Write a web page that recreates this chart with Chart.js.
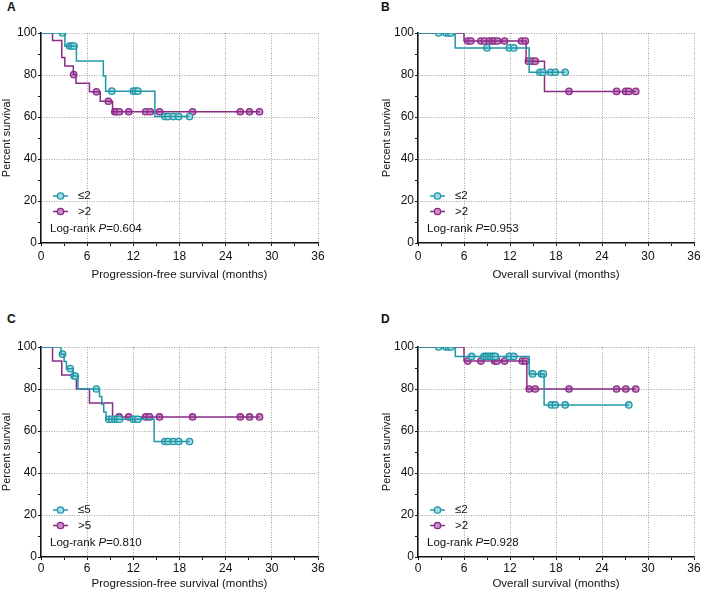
<!DOCTYPE html>
<html lang="en">
<head>
<meta charset="UTF-8">
<title>Kaplan-Meier survival curves</title>
<script src="https://cdn.jsdelivr.net/npm/chart.js"></script>
<style>
    body { margin: 0; width: 701px; height: 591px; overflow: hidden; background: #fff; position: relative;
           font-family: "Liberation Sans", Arial, sans-serif; }
    canvas { position: absolute; }
    .tag { position: absolute; font-size: 12px; font-weight: bold; line-height: 12px; color: #111; }
</style>
</head>
<body>
<div class="tag" style="left:7px;top:1px">A</div>
<div class="tag" style="left:381px;top:1px">B</div>
<div class="tag" style="left:7px;top:313px">C</div>
<div class="tag" style="left:381px;top:313px">D</div>

<canvas id="panelA" width="350" height="290" style="left:0;top:0"></canvas>
<canvas id="panelB" width="370" height="290" style="left:350px;top:0"></canvas>
<canvas id="panelC" width="350" height="301" style="left:0;top:290px"></canvas>
<canvas id="panelD" width="370" height="301" style="left:350px;top:290px"></canvas>

<script>
// axis ticks
const xTicks = [0, 6, 12, 18, 24, 30, 36];
const yTicks = [0, 20, 40, 60, 80, 100];

// A: progression-free survival, <=2 vs >2
const aLowStepT = [3.1, 4.6, 8.1, 8.4, 14.8];
const aLowStepS = [93.8, 86.7, 79.5, 72.3, 60.2];
const aLowCens = [2.8, 3.7, 4.0, 4.3, 9.2, 12.0, 12.3, 12.6, 16.1, 16.5, 17.2, 17.9, 19.3];
const aHighStepT = [1.5, 2.7, 3.1, 4.2, 4.55, 6.3, 7.7, 9.3];
const aHighStepS = [96.4, 88.3, 84.3, 80.2, 76.1, 72.0, 67.5, 62.5];
const aHighCens = [4.25, 7.2, 8.75, 9.6, 9.8, 10.2, 11.4, 13.6, 14.2, 15.4, 19.7, 25.9, 27.1, 28.4];

// B: overall survival, <=2 vs >2
const bLowStepT = [4.85, 14.5];
const bLowStepS = [92.9, 81.3];
const bLowCens = [2.7, 3.65, 4.0, 4.3, 9.0, 11.9, 12.5, 15.9, 16.3, 17.3, 17.9, 19.2];
const bHighStepT = [6.0, 14.1, 16.5];
const bHighStepS = [96.2, 86.6, 72.2];
const bHighCens = [6.5, 6.9, 8.2, 8.7, 9.3, 9.7, 10.0, 10.4, 11.3, 13.5, 14.0, 14.4, 14.9, 15.3, 19.7, 25.9, 27.1, 27.5, 28.4];

// C: progression-free survival, <=5 vs >5
const cLowStepT = [2.6, 3.0, 3.3, 4.2, 4.8, 7.6, 7.9, 8.15, 8.45, 14.7];
const cLowStepS = [96.6, 93.1, 89.7, 86.2, 80.0, 76.4, 72.7, 69.1, 65.6, 55.0];
const cLowCens = [2.8, 3.8, 4.3, 4.45, 7.2, 8.8, 9.2, 9.6, 9.9, 10.2, 12.0, 12.3, 12.6, 16.1, 16.5, 17.2, 17.9, 19.3];
const cHighStepT = [1.5, 2.7, 4.6, 6.3, 9.3];
const cHighStepS = [93.3, 86.7, 80.0, 73.3, 66.7];
const cHighCens = [10.15, 11.4, 13.6, 14.1, 15.4, 19.7, 25.9, 27.1, 28.4];

// D: overall survival, <=2 vs >2
const dLowStepT = [4.87, 14.5, 16.45];
const dLowStepS = [95.5, 87.2, 72.4];
const dLowCens = [2.7, 3.65, 4.0, 4.3, 7.0, 8.6, 8.9, 9.2, 9.5, 9.8, 10.1, 11.9, 12.5, 14.95, 16.1, 16.35, 17.4, 17.9, 19.2, 27.5];
const dHighStepT = [6.0, 14.2];
const dHighStepS = [93.3, 80.0];
const dHighCens = [6.5, 8.2, 10.0, 10.3, 11.3, 13.6, 14.05, 14.5, 15.3, 19.7, 25.9, 27.1, 28.4];

const TEAL = '#1f97a9';
const TEAL_FILL = '#a6d9e0';
const PURPLE = '#8b2b87';
const PURPLE_FILL = '#c78fc4';
const FONT = '"Liberation Sans", Arial, sans-serif';

Chart.defaults.font.family = FONT;
Chart.defaults.font.size = 12;
Chart.defaults.color = '#111';

// survival level at time t (last step at or before t)
function levelAt(t, times, levels) {
    let s = 100;
    times.forEach((st, i) => { if (st <= t) s = levels[i]; });
    return s;
}

function stepPoints(times, levels, cens) {
    const pts = [{ x: 0, y: 100 }];
    times.forEach((t, i) => pts.push({ x: t, y: levels[i] }));
    pts.push({ x: Math.max(...cens), y: levels[levels.length - 1] });
    return pts;
}

function censPoints(times, levels, cens) {
    return cens.map(t => ({ x: t, y: levelAt(t, times, levels) }));
}

function groupSets(times, levels, cens, color, fill) {
    return [
        { data: stepPoints(times, levels, cens), borderColor: color, borderWidth: 1.5,
          stepped: 'before', pointRadius: 0, fill: false },
        { data: censPoints(times, levels, cens), showLine: false, pointRadius: 3.2,
          pointBorderWidth: 1.3, pointBorderColor: color, pointBackgroundColor: fill }
    ];
}

// legend and log-rank note inside the plot
const keyPlugin = {
    id: 'key',
    afterDatasetsDraw(chart, args, opts) {
        const { ctx, chartArea } = chart;
        const x0 = chartArea.left, y0 = chartArea.top;
        ctx.save();
        ctx.font = '11.5px ' + FONT;
        ctx.textBaseline = 'middle';
        opts.rows.forEach((r, i) => {
            const y = y0 + 163 + i * 15.5;
            ctx.strokeStyle = r.color;
            ctx.lineWidth = 1.5;
            ctx.beginPath();
            ctx.moveTo(x0 + 12, y);
            ctx.lineTo(x0 + 27, y);
            ctx.stroke();
            ctx.beginPath();
            ctx.arc(x0 + 19.5, y, 3.2, 0, Math.PI * 2);
            ctx.fillStyle = r.fill;
            ctx.fill();
            ctx.lineWidth = 1.3;
            ctx.stroke();
            ctx.fillStyle = '#111';
            ctx.fillText(r.label, x0 + 37, y);
        });
        const y = y0 + 196;
        let x = x0 + 9;
        ctx.fillStyle = '#111';
        ctx.fillText('Log-rank ', x, y);
        x += ctx.measureText('Log-rank ').width;
        ctx.font = 'italic 11.5px ' + FONT;
        ctx.fillText('P', x, y);
        x += ctx.measureText('P').width;
        ctx.font = '11.5px ' + FONT;
        ctx.fillText('=' + opts.p, x, y);
        ctx.restore();
    }
};

function makePanel(id, p) {
    new Chart(document.getElementById(id), {
        type: 'line',
        data: {
            datasets: [
                ...groupSets(p.low[0], p.low[1], p.low[2], TEAL, TEAL_FILL),
                ...groupSets(p.high[0], p.high[1], p.high[2], PURPLE, PURPLE_FILL)
            ]
        },
        options: {
            responsive: false,
            animation: false,
            events: [],
            layout: { padding: p.pad },
            plugins: {
                legend: { display: false },
                tooltip: { enabled: false },
                key: {
                    rows: [
                        { label: p.labels[0], color: TEAL, fill: TEAL_FILL },
                        { label: p.labels[1], color: PURPLE, fill: PURPLE_FILL }
                    ],
                    p: p.pval
                }
            },
            scales: {
                x: {
                    type: 'linear', min: 0, max: 36,
                    afterFit: s => { s.height = p.xh; },
                    ticks: { stepSize: 3, autoSkip: false, maxRotation: 0, padding: p.xtp,
                             callback: v => xTicks.includes(v) ? v : '' },
                    grid: {
                        color: c => (c.tick && c.tick.value > 0 && xTicks.includes(c.tick.value)) ? '#888' : 'rgba(0,0,0,0)',
                        lineWidth: 0.8, tickColor: '#111', tickLength: 3, tickWidth: 1
                    },
                    border: { color: '#111', width: 1.6, dash: [1, 1.5] },
                    title: { display: true, text: p.xTitle, font: { size: 11.5 },
                             padding: { top: 0, bottom: p.xTitlePad } }
                },
                y: {
                    min: 0, max: 100,
                    afterFit: s => { s.width = p.yw; },
                    ticks: { stepSize: 10, autoSkip: false, padding: 1,
                             callback: v => yTicks.includes(v) ? v : '' },
                    grid: {
                        color: c => (c.tick && c.tick.value > 0 && yTicks.includes(c.tick.value)) ? '#888' : 'rgba(0,0,0,0)',
                        lineWidth: 0.8, tickColor: '#111', tickLength: 3, tickWidth: 1
                    },
                    border: { color: '#111', width: 1.6, dash: [1, 1.5] },
                    title: { display: true, text: 'Percent survival', font: { size: 11 },
                             padding: { top: p.yTitlePad, bottom: 0 } }
                }
            }
        },
        plugins: [keyPlugin]
    });
}

makePanel('panelA', {
    low: [aLowStepT, aLowStepS, aLowCens], high: [aHighStepT, aHighStepS, aHighCens],
    labels: ['\u22642', '>2'], pval: '0.604', xTitle: 'Progression-free survival (months)',
    pad: { left: 0, right: 32, top: 33, bottom: 0 }, yw: 41, xh: 47, xtp: 3, xTitlePad: 8, yTitlePad: 0
});
makePanel('panelB', {
    low: [bLowStepT, bLowStepS, bLowCens], high: [bHighStepT, bHighStepS, bHighCens],
    labels: ['\u22642', '>2'], pval: '0.953', xTitle: 'Overall survival (months)',
    pad: { left: 0, right: 26, top: 33, bottom: 0 }, yw: 68, xh: 47, xtp: 3, xTitlePad: 8, yTitlePad: 30
});
makePanel('panelC', {
    low: [cLowStepT, cLowStepS, cLowCens], high: [cHighStepT, cHighStepS, cHighCens],
    labels: ['\u22645', '>5'], pval: '0.810', xTitle: 'Progression-free survival (months)',
    pad: { left: 0, right: 32, top: 57, bottom: 0 }, yw: 41, xh: 34, xtp: 1, xTitlePad: 0, yTitlePad: 0
});
makePanel('panelD', {
    low: [dLowStepT, dLowStepS, dLowCens], high: [dHighStepT, dHighStepS, dHighCens],
    labels: ['\u22642', '>2'], pval: '0.928', xTitle: 'Overall survival (months)',
    pad: { left: 0, right: 26, top: 57, bottom: 0 }, yw: 68, xh: 34, xtp: 1, xTitlePad: 0, yTitlePad: 30
});
</script>
</body>
</html>
